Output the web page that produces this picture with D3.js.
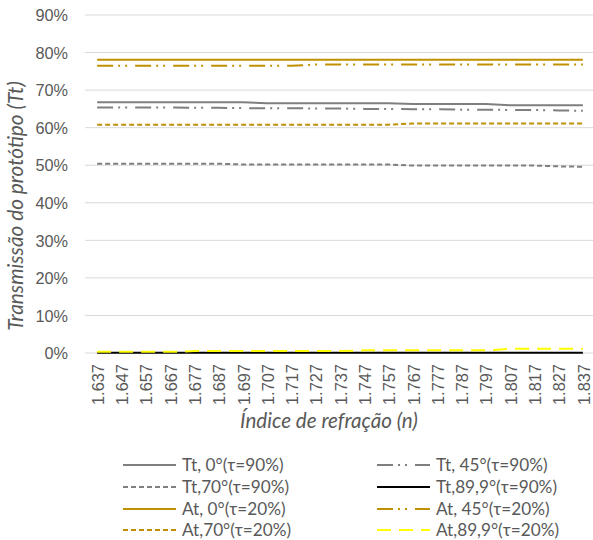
<!DOCTYPE html>
<html>
<head>
<meta charset="utf-8">
<script src="https://cdn.jsdelivr.net/npm/d3@7"></script>
<style>
  html, body { margin: 0; padding: 0; background: #fff; }
  svg { display: block; font-family: "Lato", "Open Sans", sans-serif; }
</style>
</head>
<body>
<svg id="chart" width="593" height="540"></svg>
<script>
// Refractive index categories
const categories = ["1.637","1.647","1.657","1.667","1.677","1.687","1.697","1.707","1.717","1.727","1.737",
                    "1.747","1.757","1.767","1.777","1.787","1.797","1.807","1.817","1.827","1.837"];

// Transmission values (%) per series
const tt0   = [66.8,66.8,66.8,66.8,66.8,66.8,66.8,66.5,66.5,66.5,66.5,66.5,66.5,66.3,66.3,66.3,66.3,66.0,66.0,66.0,66.0];
const tt45  = [65.4,65.4,65.4,65.4,65.3,65.3,65.2,65.2,65.2,65.1,65.1,65.0,65.0,64.9,64.9,64.8,64.8,64.7,64.7,64.6,64.5];
const tt70  = [50.4,50.4,50.4,50.4,50.4,50.4,50.2,50.2,50.2,50.2,50.2,50.2,50.2,49.9,49.9,49.9,49.9,49.9,49.9,49.7,49.6];
const tt899 = [0.05,0.05,0.05,0.05,0.05,0.05,0.05,0.05,0.05,0.05,0.05,0.05,0.05,0.05,0.05,0.05,0.05,0.05,0.05,0.05,0.05];
const at0   = [78.1,78.1,78.1,78.1,78.1,78.1,78.1,78.1,78.1,78.1,78.1,78.1,78.1,78.1,78.1,78.1,78.1,78.1,78.1,78.1,78.1];
const at45  = [76.5,76.5,76.5,76.5,76.5,76.5,76.5,76.5,76.5,76.8,76.8,76.8,76.8,76.8,76.8,76.8,76.8,76.8,76.8,76.8,76.8];
const at70  = [60.8,60.8,60.8,60.8,60.8,60.8,60.8,60.8,60.8,60.8,60.8,60.8,60.8,61.1,61.1,61.1,61.1,61.1,61.1,61.1,61.1];
const at899 = [0.3,0.3,0.3,0.3,0.5,0.5,0.5,0.5,0.5,0.5,0.5,0.7,0.7,0.7,0.7,0.7,0.7,1.1,1.1,1.1,1.1];

const yTicks = [0,10,20,30,40,50,60,70,80,90];

const series = [
  { name: "Tt, 0°(τ=90%)",     values: tt0,   color: "#7f7f7f", dash: null,                 width: 2 },
  { name: "Tt, 45°(τ=90%)",    values: tt45,  color: "#7f7f7f", dash: "16,5,2,5,2,8",       width: 2 },
  { name: "Tt,70°(τ=90%)",     values: tt70,  color: "#7f7f7f", dash: "5,3",                width: 2 },
  { name: "Tt,89,9°(τ=90%)",   values: tt899, color: "#000000", dash: null,                 width: 2 },
  { name: "At, 0°(τ=20%)",     values: at0,   color: "#bf9000", dash: null,                 width: 2 },
  { name: "At, 45°(τ=20%)",    values: at45,  color: "#bf9000", dash: "16,5,2,5,2,8",       width: 2 },
  { name: "At,70°(τ=20%)",     values: at70,  color: "#bf9000", dash: "5,3",                width: 2 },
  { name: "At,89,9°(τ=20%)",   values: at899, color: "#ffff00", dash: "14,8",               width: 2 }
];

const svg = d3.select("#chart");
const margin = { left: 85, right: -2, top: 15, bottom: 187 };
const W = 593, H = 540;

const x = d3.scaleBand().domain(categories).range([margin.left, W - margin.right]);
const y = d3.scaleLinear().domain([0, 90]).range([H - margin.bottom, margin.top]);

const textColor = "#595959";

// Horizontal gridlines
svg.append("g").selectAll("line").data(yTicks).join("line")
  .attr("x1", margin.left).attr("x2", W - margin.right)
  .attr("y1", d => y(d)).attr("y2", d => y(d))
  .attr("stroke", "#d9d9d9").attr("stroke-width", 1);

// Y axis labels
const yAxis = d3.axisLeft(y).tickValues(yTicks).tickFormat(d => d + "%").tickSize(0).tickPadding(0);
const gy = svg.append("g").attr("transform", `translate(68,0)`).call(yAxis);
gy.select(".domain").remove();
gy.selectAll("text").attr("fill", textColor).style("font-size", "16.3px").attr("dy", "0.35em");

// X axis labels (rotated)
const xAxis = d3.axisBottom(x).tickSize(0).tickPadding(0);
const gx = svg.append("g").attr("transform", `translate(0,${y(0)})`).call(xAxis);
gx.select(".domain").remove();
gx.selectAll("text")
  .attr("fill", textColor).style("font-size", "16.4px")
  .attr("transform", "rotate(-90)")
  .attr("text-anchor", "end")
  .attr("x", -11).attr("y", 1).attr("dy", "0.35em");

// Series lines
const line = d3.line()
  .x((d, i) => x(categories[i]) + x.bandwidth() / 2)
  .y(d => y(d));

svg.append("g").selectAll("path").data(series).join("path")
  .attr("d", s => line(s.values))
  .attr("fill", "none")
  .attr("stroke", s => s.color)
  .attr("stroke-width", s => s.width)
  .attr("stroke-dasharray", s => s.dash)
  .attr("stroke-linejoin", "round");

// Axis titles
svg.append("text")
  .attr("transform", `translate(23,206) rotate(-90)`)
  .attr("text-anchor", "middle")
  .attr("fill", textColor).style("font-size", "20.8px").style("font-style", "italic")
  .text("Transmissão do protótipo (Tt)");

svg.append("text")
  .attr("x", 329).attr("y", 428)
  .attr("text-anchor", "middle")
  .attr("fill", textColor).style("font-size", "20.6px").style("font-style", "italic")
  .text("Índice de refração (n)");

// Legend, two columns
const legendCols = [123, 377];
const legendRows = [465, 487, 509, 530];
const lg = svg.append("g").selectAll("g").data(series).join("g")
  .attr("transform", (s, i) => `translate(${legendCols[i % 2]},${legendRows[Math.floor(i / 2)]})`);
lg.append("line")
  .attr("x1", 0).attr("x2", 53).attr("y1", 0).attr("y2", 0)
  .attr("stroke", s => s.color).attr("stroke-width", s => s.width)
  .attr("stroke-dasharray", s => s.dash);
lg.append("text")
  .attr("x", 59).attr("y", 0).attr("dy", "0.35em")
  .attr("fill", textColor).style("font-size", "17.2px")
  .text(s => s.name);
</script>
</body>
</html>
